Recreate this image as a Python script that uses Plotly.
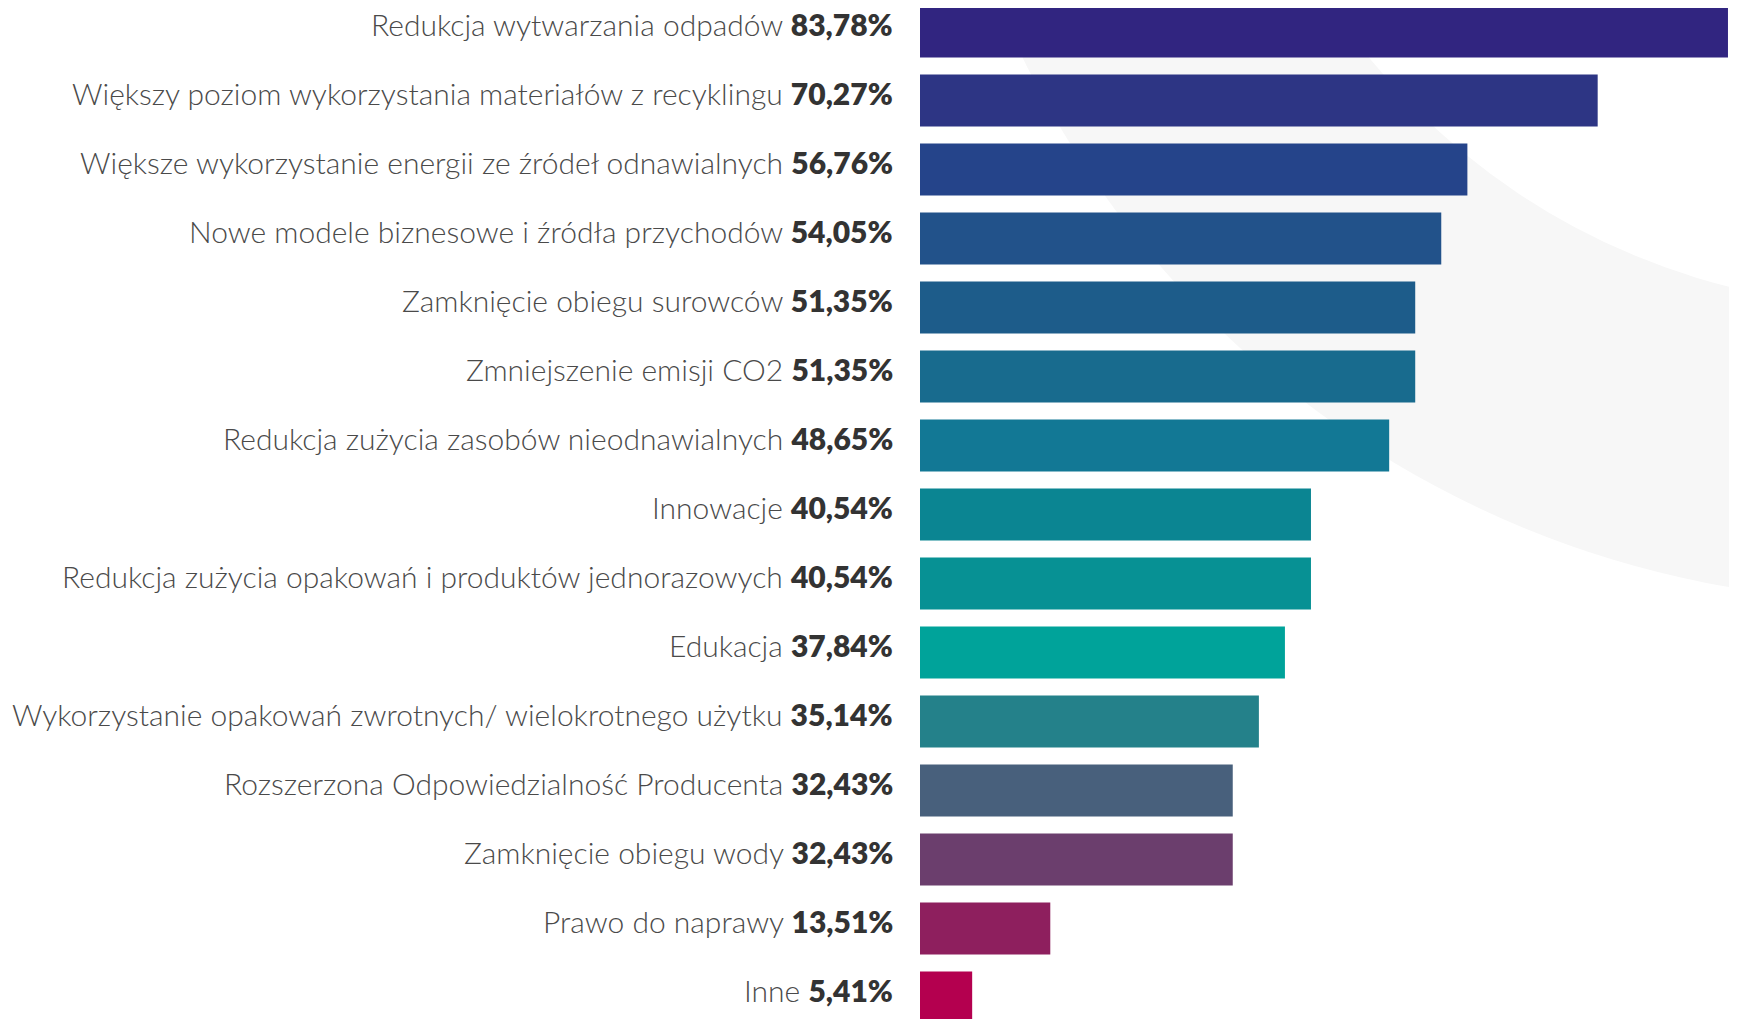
import plotly.graph_objects as go

# kategorie i wyniki (%)
kategorie = [
    "Redukcja wytwarzania odpadów",
    "Większy poziom wykorzystania materiałów z recyklingu",
    "Większe wykorzystanie energii ze źródeł odnawialnych",
    "Nowe modele biznesowe i źródła przychodów",
    "Zamknięcie obiegu surowców",
    "Zmniejszenie emisji CO2",
    "Redukcja zużycia zasobów nieodnawialnych",
    "Innowacje",
    "Redukcja zużycia opakowań i produktów jednorazowych",
    "Edukacja",
    "Wykorzystanie opakowań zwrotnych/ wielokrotnego użytku",
    "Rozszerzona Odpowiedzialność Producenta",
    "Zamknięcie obiegu wody",
    "Prawo do naprawy",
    "Inne",
]
wartosci = [83.78, 70.27, 56.76, 54.05, 51.35, 51.35, 48.65, 40.54, 40.54,
            37.84, 35.14, 32.43, 32.43, 13.51, 5.41]
kolory = ["#312580", "#2d3584", "#25448a", "#22528a", "#1d5c8a", "#186b8e",
          "#127895", "#0b8592", "#079194", "#00a39a", "#24818a", "#48607c",
          "#6b3e6d", "#8e1f5e", "#b4004f"]

W, H = 1737, 1019
OFF = 8          # margines strony (body) przesuwa wykres o 8 px
LEFT = 920 - OFF

pozycje = list(range(len(kategorie)))

fig = go.Figure()
fig.add_trace(go.Bar(
    x=wartosci, y=pozycje, orientation="h",
    marker=dict(color=kolory, line=dict(width=0)),
    width=0.754, hoverinfo="skip", showlegend=False,
))

# etykiety: nazwa + pogrubiony wynik, lekko nad środkiem słupka
for i, (k, v) in enumerate(zip(kategorie, wartosci)):
    pct = f"{v:.2f}".replace(".", ",")
    fig.add_annotation(
        x=0, xref="paper", y=i, yref="y",
        text=f"{k} <span style='font-weight:800;color:#333333'>{pct}%</span>",
        showarrow=False, xanchor="right", yanchor="middle",
        xshift=-26, yshift=8, borderpad=0,
        font=dict(family="Lato", size=30, color="#4a4a4a", weight=300),
    )


# tło: jasnoszary pierścień (współrzędne w pikselach -> paper)
def px(x):
    return (x - LEFT) / (W - LEFT)


def py(y):
    return 1 - y / H


cx, cy = 1893 - OFF, -368 - OFF
for r, col in [(969, "#f7f7f7"), (675, "white")]:
    fig.add_shape(type="circle", xref="paper", yref="paper",
                  x0=px(cx - r), x1=px(cx + r), y0=py(cy + r), y1=py(cy - r),
                  fillcolor=col, line=dict(width=0), layer="below")

pix_per_unit = 69
top = 31.5 - OFF
fig.update_yaxes(
    range=[(H - top) / pix_per_unit, -top / pix_per_unit],
    showticklabels=False, showgrid=False, zeroline=False, showline=False,
    ticks="", automargin=False,
)
fig.update_xaxes(range=[0, (W - LEFT) / 9.644], visible=False, fixedrange=True)

fig.update_layout(
    width=W, height=H,
    margin=dict(l=LEFT, r=0, t=0, b=0, pad=0),
    paper_bgcolor="white", plot_bgcolor="rgba(0,0,0,0)",
    font=dict(family="Lato", color="#333333"),
)

fig.write_html("out.html")
